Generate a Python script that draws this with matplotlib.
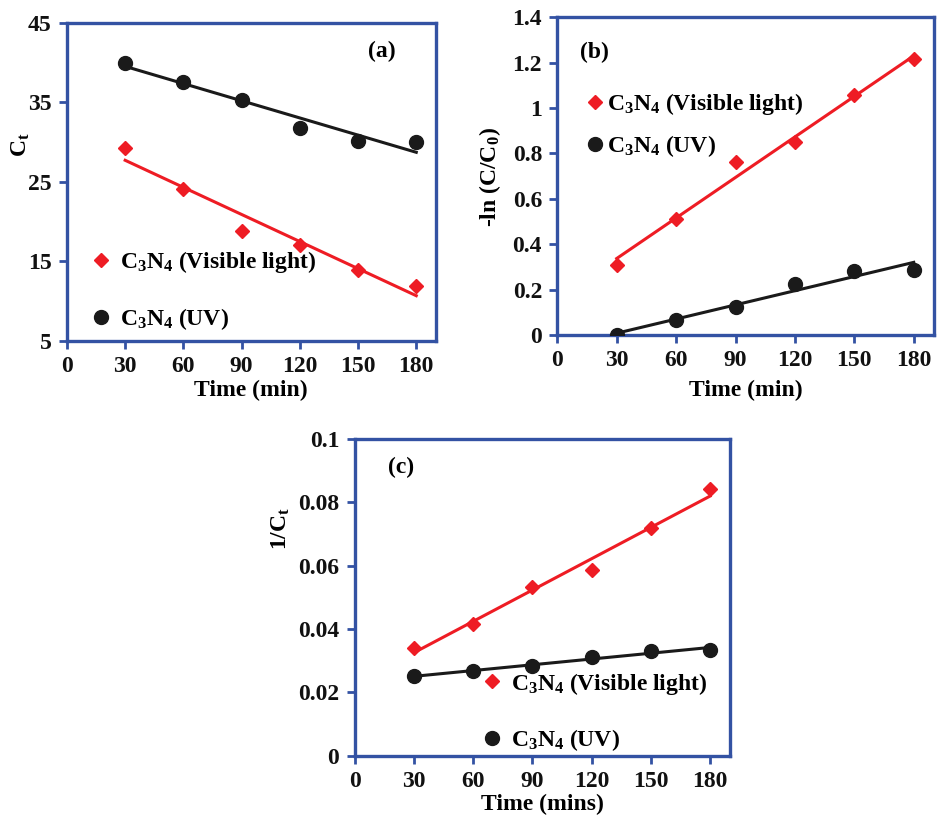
import matplotlib
matplotlib.use('Agg')
import matplotlib.pyplot as plt
import numpy as np

plt.rcParams['font.family'] = 'Liberation Serif'
plt.rcParams['font.weight'] = 'bold'
plt.rcParams['mathtext.fontset'] = 'custom'
plt.rcParams['mathtext.rm'] = 'Liberation Serif:bold'
plt.rcParams['mathtext.it'] = 'Liberation Serif:bold'
plt.rcParams['mathtext.bf'] = 'Liberation Serif:bold'

time = [30, 60, 90, 120, 150, 180]

# (a) concentration
ct_vis = [29.3, 24.1, 18.8, 17.1, 13.9, 11.9]
ct_uv = [40.0, 37.5, 35.3, 31.8, 30.1, 30.0]

# (b) first order
ln_vis = [0.31, 0.51, 0.76, 0.85, 1.055, 1.215]
ln_uv = [0.0, 0.065, 0.125, 0.225, 0.28, 0.288]

# (c) second order
inv_vis = [0.0341, 0.0415, 0.0532, 0.0585, 0.0719, 0.0840]
inv_uv = [0.0250, 0.0267, 0.0283, 0.0312, 0.0330, 0.0334]

lab_vis = r'C$_{3}$N$_{4}$ (Visible light)'
lab_uv = r'C$_{3}$N$_{4}$ (UV)'

RED = '#ee1c24'
BLK = '#1a1a1a'
BLUE = '#3352a3'
FS = 17

fig = plt.figure(figsize=(9.43, 8.17), dpi=100)
ax_a = fig.add_axes([0.071, 0.583, 0.391, 0.389])
ax_b = fig.add_axes([0.591, 0.590, 0.399, 0.389])
ax_c = fig.add_axes([0.376, 0.075, 0.398, 0.388])


def panel(ax, yv, yu, ylim, yticks, ylabel, xlabel, tag, tagpos,
          legpos, legspace, textpad, ylab_pos, xlab_y):
    x = np.array(time)
    for y, col, mk, ms, lab in [(yv, RED, 'D', 7.5, lab_vis),
                                (yu, BLK, 'o', 10, lab_uv)]:
        p = np.polyfit(x, y, 1)
        ax.plot(x, np.polyval(p, x), color=col, lw=2.2, zorder=2)
        ax.plot(x, y, mk, color=col, ms=ms, ls='none', label=lab, zorder=3)
    ax.set_xlim(0, 190)
    ax.set_ylim(*ylim)
    ax.set_xticks([0, 30, 60, 90, 120, 150, 180])
    ax.set_yticks(yticks)
    for s in ax.spines.values():
        s.set_color(BLUE)
        s.set_linewidth(2.4)
    ax.tick_params(colors=BLUE, width=2, length=6, labelsize=FS,
                   labelcolor='#111111', pad=5)
    ax.set_ylabel(ylabel, fontsize=FS, fontweight='bold')
    ax.set_xlabel(xlabel, fontsize=FS, fontweight='bold')
    ax.yaxis.set_label_coords(*ylab_pos)
    ax.xaxis.set_label_coords(0.5, xlab_y)
    ax.text(tagpos[0], tagpos[1], tag, transform=ax.transAxes, fontsize=17,
            fontweight='bold', ha='center', va='center')
    ax.legend(loc='center left', bbox_to_anchor=legpos, frameon=False,
              fontsize=FS, borderpad=0, borderaxespad=0, handlelength=1,
              handletextpad=textpad, labelspacing=legspace)


panel(ax_a, ct_vis, ct_uv, (5, 45), [5, 15, 25, 35, 45], r'C$_{\rm t}$',
      'Time (min)', '(a)', (0.854, 0.909), (0.06, 0.158), 1.3, 0.3,
      (-0.095, 0.616), -0.122)
panel(ax_b, ln_vis, ln_uv, (0, 1.4), [0, 0.2, 0.4, 0.6, 0.8, 1, 1.2, 1.4],
      r'-ln (C/C$_0$)', 'Time (min)', '(b)', (0.098, 0.89), (0.068, 0.66),
      0.7, 0.0, (-0.144, 0.497), -0.14)
panel(ax_c, inv_vis, inv_uv, (0, 0.1), [0, 0.02, 0.04, 0.06, 0.08, 0.1],
      r'1/C$_{\rm t}$', 'Time (mins)', '(c)', (0.123, 0.91), (0.336, 0.138),
      1.3, 0.3, (-0.168, 0.716), -0.12)

for ax in (ax_b, ax_c):
    ax.yaxis.set_major_formatter(plt.FuncFormatter(lambda v, _: ('%g' % v)))

fig.savefig('out.png', dpi=100)
